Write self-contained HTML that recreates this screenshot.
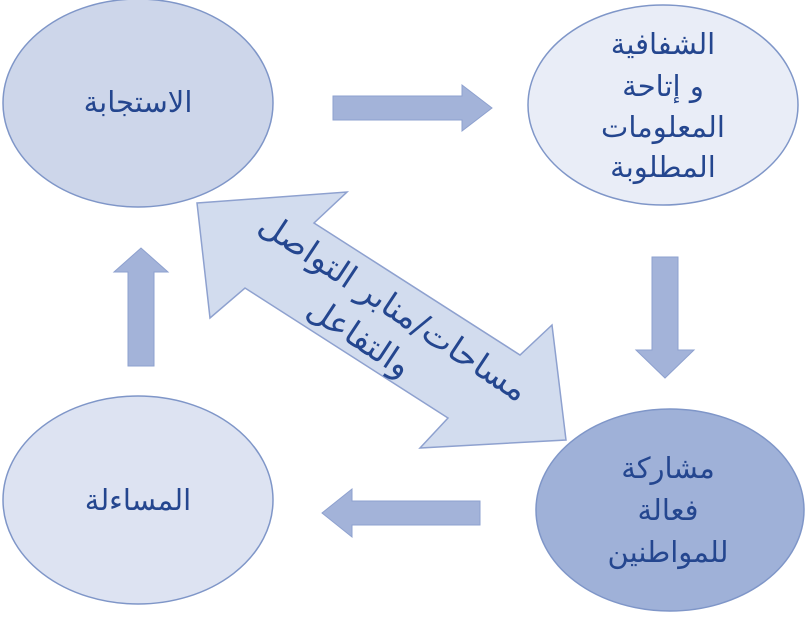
<!DOCTYPE html>
<html><head><meta charset="utf-8"><style>
html,body{margin:0;padding:0;background:#fff;}
svg text{font-family:"DejaVu Sans","Liberation Sans",sans-serif;fill:#24468f;}
</style></head><body>
<svg width="806" height="616" viewBox="0 0 806 616" xmlns="http://www.w3.org/2000/svg">
<g stroke="#7f96c8" stroke-width="1.5">
<ellipse cx="138" cy="103" rx="135" ry="104" fill="#cdd6ea"/>
<ellipse cx="663" cy="105" rx="135" ry="100" fill="#e9edf7"/>
<ellipse cx="138" cy="500" rx="135" ry="104" fill="#dde3f2"/>
<ellipse cx="670" cy="510" rx="134" ry="101" fill="#9fb1d8"/>
</g>
<g fill="#a3b3d9" stroke="#8ea1cf" stroke-width="1">
<polygon points="333,96 462,96 462,85 492,108 462,131 462,120 333,120"/>
<polygon points="652,257 678,257 678,350 694,350 665,378 636,350 652,350"/>
<polygon points="480,501 352,501 352,489 322,513 352,537 352,525 480,525"/>
<polygon points="128,366 154,366 154,272 168,272 141,248 114,272 128,272"/>
</g>
<polygon points="197,203 347,192 314,223 520,355 552,325 566,440 420,448 448,418 245,288 210,318" fill="#d2dcee" stroke="#8ea1cf" stroke-width="1.5"/>
<g font-size="29" text-anchor="middle" direction="rtl">
<text x="138" y="112">الاستجابة</text>
<text x="663" y="54">الشفافية</text>
<text x="663" y="96">و إتاحة</text>
<text x="663" y="137">المعلومات</text>
<text x="663" y="177">المطلوبة</text>
<text x="138" y="510">المساءلة</text>
<text x="668" y="478">مشاركة</text>
<text x="668" y="520">فعالة</text>
<text x="668" y="562">للمواطنين</text>
<g transform="translate(393,308) rotate(33.5)">
<text x="0" y="10" font-size="33">مساحات/منابر التواصل</text>
<text x="-12" y="54" font-size="33">والتفاعل</text>
</g>
</g>
</svg>
</body></html>
